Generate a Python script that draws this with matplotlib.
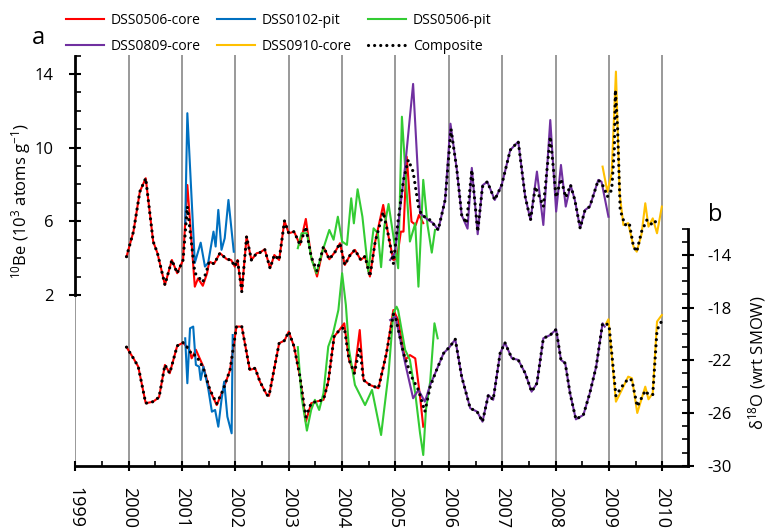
import matplotlib
matplotlib.use("Agg")
from matplotlib import pyplot as plt
from matplotlib.ticker import MultipleLocator, FixedLocator

plt.rcParams['font.family'] = ['Open Sans', 'DejaVu Sans']
plt.rcParams['mathtext.fontset'] = 'custom'
plt.rcParams['mathtext.rm'] = 'Open Sans'
plt.rcParams['mathtext.it'] = 'Open Sans'

# ---- 10Be (10^3 atoms g^-1) ----
red_be_yr = [1999.96, 2000.09, 2000.21, 2000.32, 2000.46, 2000.54, 2000.68, 2000.81, 2000.91, 2001.02,
             2001.1, 2001.24, 2001.3, 2001.39, 2001.47, 2001.51, 2001.6, 2001.71, 2001.84, 2001.92, 2001.99,
             2002.04, 2002.12, 2002.21, 2002.3, 2002.4, 2002.46, 2002.55, 2002.65, 2002.73, 2002.82, 2002.92,
             2003.0, 2003.1, 2003.21, 2003.32, 2003.42, 2003.53, 2003.65, 2003.76, 2003.87, 2003.96,
             2004.05, 2004.15, 2004.24, 2004.35, 2004.43, 2004.52, 2004.62, 2004.77, 2004.87, 2004.96,
             2005.03, 2005.1, 2005.15, 2005.21, 2005.3, 2005.38, 2005.44, 2005.52]
red_be = [4.08, 5.44, 7.61, 8.34, 4.9, 4.27, 2.55, 3.9, 3.18, 3.9,
          7.97, 2.45, 2.9, 2.5, 3.18, 3.81, 3.69, 4.27, 3.94, 3.9, 3.54,
          3.9, 2.18, 5.17, 3.9, 4.27, 4.3, 4.48, 3.45, 4.17, 3.9, 6.02,
          5.35, 5.44, 4.72, 6.13, 4.08, 3.0, 4.62, 3.94, 4.35, 4.81,
          3.63, 4.17, 4.45, 3.9, 4.1, 3.0, 4.9, 6.89, 5.17, 3.9,
          4.0, 5.44, 5.44, 9.51, 5.98, 5.8, 6.34, 5.9]

blue_be_yr = [2001.06, 2001.1, 2001.24, 2001.35, 2001.43, 2001.49, 2001.59, 2001.63, 2001.68, 2001.74,
              2001.8, 2001.87, 2001.97]
blue_be = [5.9, 11.87, 3.74, 4.84, 3.54, 3.74, 5.44, 4.63, 6.62, 4.45, 5.08, 7.16, 4.35]

green_be_yr = [2003.17, 2003.24, 2003.34, 2003.43, 2003.52, 2003.62, 2003.76, 2003.84, 2003.92,
               2004.0, 2004.09, 2004.17, 2004.22, 2004.29, 2004.38, 2004.49, 2004.59, 2004.67, 2004.73,
               2004.79, 2004.87, 2004.96, 2005.05, 2005.12, 2005.27, 2005.37, 2005.43, 2005.52, 2005.6,
               2005.68, 2005.74]
green_be = [4.54, 5.35, 5.35, 3.9, 3.18, 4.27, 5.53, 5.0, 6.25,
            4.9, 4.72, 7.25, 5.89, 7.74, 6.25, 3.27, 5.62, 5.35, 3.51, 5.71, 6.94, 5.2,
            3.45, 11.68, 4.9, 5.89, 2.45, 8.25, 5.8, 4.3, 5.53]

purple_be_yr = [2004.9, 2004.99, 2005.18, 2005.33, 2005.46, 2005.6, 2005.71, 2005.8, 2005.93,
                2006.03, 2006.15, 2006.24, 2006.35, 2006.43, 2006.54, 2006.63, 2006.72, 2006.86, 2006.99,
                2007.15, 2007.3, 2007.43, 2007.53, 2007.65, 2007.77, 2007.9,
                2008.01, 2008.1, 2008.19, 2008.28, 2008.36, 2008.46, 2008.55, 2008.64, 2008.8, 2008.86, 2008.99]
purple_be = [3.9, 4.3, 8.97, 13.46, 6.43, 6.1, 5.89, 5.53, 7.16,
             11.3, 8.79, 6.34, 5.6, 8.9, 5.3, 7.95, 8.15, 7.16, 7.97,
             9.87, 10.33, 7.34, 6.07, 8.7, 5.8, 11.5,
             6.53, 9.06, 6.8, 7.97, 7.16, 5.62, 6.61, 6.8, 8.25, 8.15, 6.25]

yellow_be_yr = [2008.88, 2008.97, 2009.05, 2009.13, 2009.2, 2009.27, 2009.36, 2009.46, 2009.52,
                2009.61, 2009.68, 2009.74, 2009.82, 2009.9, 2009.99]
yellow_be = [8.97, 7.6, 8.6, 14.13, 7.5, 5.8, 5.9, 4.62, 4.35, 5.3, 6.98, 5.71, 6.16, 5.35, 6.8]

comp_be_yr = [1999.96, 2000.09, 2000.21, 2000.32, 2000.46, 2000.54, 2000.68, 2000.81, 2000.91, 2001.02,
              2001.1, 2001.24, 2001.3, 2001.39, 2001.47, 2001.51, 2001.6, 2001.71, 2001.84, 2001.92, 2001.99,
              2002.04, 2002.12, 2002.21, 2002.3, 2002.4, 2002.46, 2002.55, 2002.65, 2002.73, 2002.82, 2002.92,
              2003.0, 2003.1, 2003.21, 2003.32, 2003.42, 2003.53, 2003.65, 2003.76, 2003.87, 2003.96,
              2004.05, 2004.15, 2004.24, 2004.35, 2004.43, 2004.52, 2004.62, 2004.77, 2004.87, 2004.96,
              2005.05, 2005.15, 2005.24, 2005.33, 2005.43, 2005.49, 2005.65, 2005.8, 2005.93,
              2006.04, 2006.15, 2006.24, 2006.33, 2006.43, 2006.54, 2006.63, 2006.72, 2006.86, 2006.99,
              2007.15, 2007.3, 2007.43, 2007.53, 2007.62, 2007.77, 2007.9,
              2008.01, 2008.1, 2008.19, 2008.28, 2008.36, 2008.46, 2008.55, 2008.64, 2008.8, 2008.9, 2008.97,
              2009.05, 2009.1, 2009.12, 2009.16, 2009.21, 2009.3, 2009.38, 2009.46, 2009.52, 2009.61,
              2009.71, 2009.77, 2009.83, 2009.93]
comp_be = [4.08, 5.44, 7.61, 8.34, 4.9, 4.27, 2.55, 3.9, 3.18, 3.9,
           6.8, 3.2, 3.0, 2.7, 3.4, 3.81, 3.69, 4.27, 3.94, 3.9, 3.54,
           3.9, 2.18, 5.17, 3.9, 4.27, 4.3, 4.48, 3.45, 4.17, 3.9, 6.02,
           5.35, 5.44, 4.72, 5.7, 4.08, 3.3, 4.62, 3.94, 4.35, 4.81,
           3.63, 4.17, 4.45, 3.9, 4.1, 3.0, 4.9, 6.5, 5.2, 3.7,
           6.07, 8.25, 9.33, 8.7, 6.8, 6.34, 6.07, 5.53, 7.16,
           11.0, 8.79, 6.34, 5.89, 8.79, 5.44, 7.88, 8.15, 7.16, 7.97,
           9.87, 10.33, 7.34, 6.07, 7.88, 6.8, 10.6,
           7.3, 8.3, 7.3, 7.97, 7.16, 5.62, 6.61, 6.8, 8.25, 7.88, 7.34,
           7.7, 9.87, 13.13, 11.14, 6.61, 5.8, 5.9, 4.62, 4.35, 5.44,
           6.07, 5.9, 5.8, 6.25]

# ---- d18O (permil wrt SMOW) ----
red_d_yr = [1999.96, 2000.09, 2000.18, 2000.32, 2000.46, 2000.57, 2000.68, 2000.77, 2000.91, 2001.02,
            2001.14, 2001.18, 2001.26, 2001.4, 2001.52, 2001.65, 2001.77, 2001.9,
            2002.02, 2002.12, 2002.27, 2002.37, 2002.46, 2002.59, 2002.63, 2002.82, 2002.92,
            2003.0, 2003.1, 2003.21, 2003.32, 2003.42, 2003.5, 2003.65, 2003.74, 2003.85, 2003.94,
            2004.04, 2004.13, 2004.23, 2004.33, 2004.4, 2004.52, 2004.68, 2004.83, 2004.96,
            2005.05, 2005.18, 2005.27, 2005.37, 2005.46, 2005.52]
red_d = [-21.0, -21.85, -22.48, -25.26, -25.14, -24.8, -22.35, -22.98, -20.9, -20.66,
         -21.2, -21.85, -21.2, -22.48, -24.25, -25.4, -24.25, -22.73,
         -19.44, -19.44, -22.73, -22.6, -23.62, -24.63, -24.7, -20.7, -20.5,
         -19.82, -20.96, -23.24, -26.66, -25.26, -25.15, -25.0, -23.62, -20.2, -19.75,
         -19.19, -21.97, -22.98, -19.7, -23.49, -23.87, -24.12, -21.47, -18.18,
         -18.94, -21.97, -21.6, -21.85, -24.76, -27.04]

blue_d_yr = [2001.06, 2001.1, 2001.15, 2001.21, 2001.26, 2001.32, 2001.35, 2001.4, 2001.49, 2001.56,
             2001.62, 2001.68, 2001.74, 2001.79, 2001.85, 2001.93, 2001.95]
blue_d = [-20.33, -23.74, -19.57, -19.44, -22.35, -22.48, -23.49, -22.48, -24.12, -25.9,
          -25.77, -27.04, -25.0, -23.62, -26.28, -27.54, -20.08]

green_d_yr = [2003.17, 2003.24, 2003.34, 2003.42, 2003.49, 2003.57, 2003.65, 2003.74, 2003.83, 2003.93,
              2004.0, 2004.07, 2004.13, 2004.24, 2004.43, 2004.56, 2004.73, 2004.87, 2004.96,
              2005.02, 2005.05, 2005.18, 2005.27, 2005.37, 2005.46, 2005.52, 2005.57, 2005.65, 2005.73, 2005.79]
green_d = [-21.0, -24.76, -27.34, -25.77, -25.0, -25.77, -24.5, -20.96, -19.95, -18.18,
           -15.39, -17.8, -21.21, -23.87, -25.4, -24.25, -27.67, -22.98, -18.43,
           -17.93, -18.2, -21.2, -21.97, -24.5, -27.54, -29.19, -25.77, -23.62, -19.19, -20.33]

purple_d_yr = [2004.9, 2005.0, 2005.18, 2005.33, 2005.43, 2005.55, 2005.65, 2005.77, 2005.9,
               2006.02, 2006.12, 2006.24, 2006.4, 2006.53, 2006.63, 2006.74, 2006.83, 2006.96,
               2007.05, 2007.18, 2007.3, 2007.43, 2007.55, 2007.65, 2007.77, 2007.9,
               2008.01, 2008.1, 2008.18, 2008.27, 2008.38, 2008.52, 2008.64, 2008.76, 2008.88, 2008.92]
purple_d = [-18.94, -18.7, -22.2, -24.88, -24.25, -25.14, -23.87, -22.73, -21.47,
            -20.96, -20.4, -23.24, -25.64, -25.9, -26.66, -24.63, -25.0, -21.47,
            -20.66, -21.85, -21.97, -22.98, -24.38, -23.74, -20.33, -20.08,
            -19.65, -21.97, -22.22, -24.5, -26.48, -26.15, -24.5, -22.48, -19.19, -19.44]

yellow_d_yr = [2008.95, 2008.99, 2009.13, 2009.24, 2009.36, 2009.43, 2009.53, 2009.68, 2009.74,
               2009.82, 2009.9, 2009.99]
yellow_d = [-19.19, -18.88, -25.14, -24.25, -23.24, -23.36, -26.0, -24.0, -24.96, -24.5, -19.06, -18.56]

comp_d_yr = [1999.96, 2000.09, 2000.18, 2000.32, 2000.46, 2000.57, 2000.68, 2000.77, 2000.91, 2001.02,
             2001.14, 2001.18, 2001.26, 2001.4, 2001.52, 2001.65, 2001.77, 2001.9,
             2002.02, 2002.12, 2002.27, 2002.37, 2002.46, 2002.59, 2002.63, 2002.82, 2002.92,
             2003.0, 2003.1, 2003.21, 2003.32, 2003.42, 2003.5, 2003.65, 2003.74, 2003.85, 2003.94,
             2004.04, 2004.13, 2004.23, 2004.33, 2004.4, 2004.52, 2004.68, 2004.83, 2004.96,
             2005.0, 2005.15, 2005.3, 2005.43, 2005.55, 2005.65, 2005.77, 2005.9,
             2006.02, 2006.12, 2006.24, 2006.4, 2006.53, 2006.63, 2006.74, 2006.83, 2006.96,
             2007.05, 2007.18, 2007.3, 2007.43, 2007.55, 2007.65, 2007.77, 2007.9,
             2008.01, 2008.1, 2008.18, 2008.27, 2008.38, 2008.52, 2008.64, 2008.76, 2008.88,
             2009.0, 2009.13, 2009.24, 2009.36, 2009.43, 2009.53, 2009.68, 2009.74, 2009.82, 2009.9, 2009.99]
comp_d = [-21.0, -21.85, -22.48, -25.26, -25.14, -24.8, -22.35, -22.98, -20.9, -20.66,
          -21.2, -21.6, -21.6, -22.6, -24.2, -25.3, -24.25, -22.73,
          -19.44, -19.44, -22.73, -22.6, -23.62, -24.63, -24.7, -20.7, -20.5,
          -19.82, -20.96, -23.24, -26.3, -25.26, -25.15, -25.0, -23.62, -20.2, -19.75,
          -19.5, -21.97, -22.98, -21.0, -23.49, -23.87, -24.12, -21.47, -18.5,
          -18.7, -21.47, -23.24, -24.25, -25.9, -24.0, -22.73, -21.47,
          -20.96, -20.4, -23.24, -25.64, -25.9, -26.66, -24.63, -25.0, -21.47,
          -20.66, -21.85, -21.97, -22.98, -24.38, -23.74, -20.33, -20.08,
          -19.65, -21.97, -22.22, -24.5, -26.48, -26.15, -24.5, -22.48, -19.19,
          -19.3, -24.7, -24.0, -23.4, -23.5, -25.5, -24.3, -24.6, -24.6, -19.7, -19.0]

years = list(range(1999, 2011))

c_red = '#FF0000'
c_blue = '#0070C0'
c_green = '#33CC33'
c_purple = '#7030A0'
c_yellow = '#FFC000'
lw = 1.5

fig = plt.figure(figsize=(7.68, 5.29), dpi=100)
ax = fig.add_axes([0.098, 0.1197, 0.7978, 0.7763])
ax2 = ax.twinx()

# gridlines at each year
ax.set_xlim(1999, 2010.48)
ax.xaxis.set_major_locator(FixedLocator(years))
ax.xaxis.set_minor_locator(MultipleLocator(0.5))
ax.grid(axis='x', which='major', color='#999999', lw=1.4)
ax.set_axisbelow(True)

h_red, = ax.plot(red_be_yr, red_be, color=c_red, lw=lw)
h_blue, = ax.plot(blue_be_yr, blue_be, color=c_blue, lw=lw)
h_green, = ax.plot(green_be_yr, green_be, color=c_green, lw=lw)
h_purple, = ax.plot(purple_be_yr, purple_be, color=c_purple, lw=lw)
h_yellow, = ax.plot(yellow_be_yr, yellow_be, color=c_yellow, lw=lw)
h_comp, = ax.plot(comp_be_yr, comp_be, color='black', lw=2.3, linestyle=(0, (0.01, 1.9)),
                  dash_capstyle='round')

ax2.plot(red_d_yr, red_d, color=c_red, lw=lw)
ax2.plot(blue_d_yr, blue_d, color=c_blue, lw=lw)
ax2.plot(green_d_yr, green_d, color=c_green, lw=lw)
ax2.plot(purple_d_yr, purple_d, color=c_purple, lw=lw)
ax2.plot(yellow_d_yr, yellow_d, color=c_yellow, lw=lw)
ax2.plot(comp_d_yr, comp_d, color='black', lw=2.3, linestyle=(0, (0.01, 1.9)),
         dash_capstyle='round')

ax.set_ylim(-7.27, 15.03)
ax2.set_ylim(-30, 1.18)

for s in ['top', 'right']:
    ax.spines[s].set_visible(False)
for s in ['top', 'left', 'bottom']:
    ax2.spines[s].set_visible(False)
ax.spines['left'].set_bounds(2, 15)
ax.spines['left'].set_linewidth(2)
ax.spines['bottom'].set_linewidth(2)
ax2.spines['right'].set_bounds(-30, -12)
ax2.spines['right'].set_linewidth(2)

ax.set_yticks([2, 6, 10, 14])
ax.yaxis.set_minor_locator(FixedLocator(range(2, 16)))
ax2.set_yticks([-14, -18, -22, -26, -30])
ax2.yaxis.set_minor_locator(FixedLocator(range(-30, -11)))

ax.tick_params(axis='y', which='major', direction='inout', length=9, width=1.5, pad=11, labelsize=12)
ax.tick_params(axis='y', which='minor', direction='in', length=4, width=1.2)
ax.tick_params(axis='x', which='major', direction='inout', length=7, width=1.5, pad=12, labelsize=13,
               labelrotation=-90)
ax.tick_params(axis='x', which='minor', direction='in', length=3.5, width=1.2)
ax2.tick_params(axis='y', which='major', direction='inout', length=8.5, width=1.5, pad=10, labelsize=12)
ax2.tick_params(axis='y', which='minor', direction='in', length=4, width=1.2)
ax2.set_yticklabels(['-14', '-18', '-22', '-26', '-30'])
for t in ax.get_xticklabels():
    t.set_va('top')

fig.text(0.027, 1 - 201 / 529, r'$^{10}$Be (10$^{3}$ atoms g$^{-1}$)', rotation=90,
         ha='center', va='center', fontsize=12)
fig.text(0.986, 1 - 363 / 529, r'δ$^{18}$O (wrt SMOW)', rotation=90,
         ha='center', va='center', fontsize=12)
fig.text(38 / 768, 1 - 38 / 529, 'a', fontsize=17, ha='center', va='center')
fig.text(708 / 768, 1 - 215 / 529, 'b', fontsize=17, ha='left', va='center')

fig.legend([h_red, h_purple, h_blue, h_yellow, h_green, h_comp],
           ['DSS0506-core', 'DSS0809-core', 'DSS0102-pit', 'DSS0910-core', 'DSS0506-pit', 'Composite'],
           ncol=3, loc='upper left', bbox_to_anchor=(0.07, 1.0), frameon=False, fontsize=10,
           handlelength=2.7, handletextpad=0.5, columnspacing=1.2, labelspacing=0.8)

fig.savefig('out.png', dpi=100)
